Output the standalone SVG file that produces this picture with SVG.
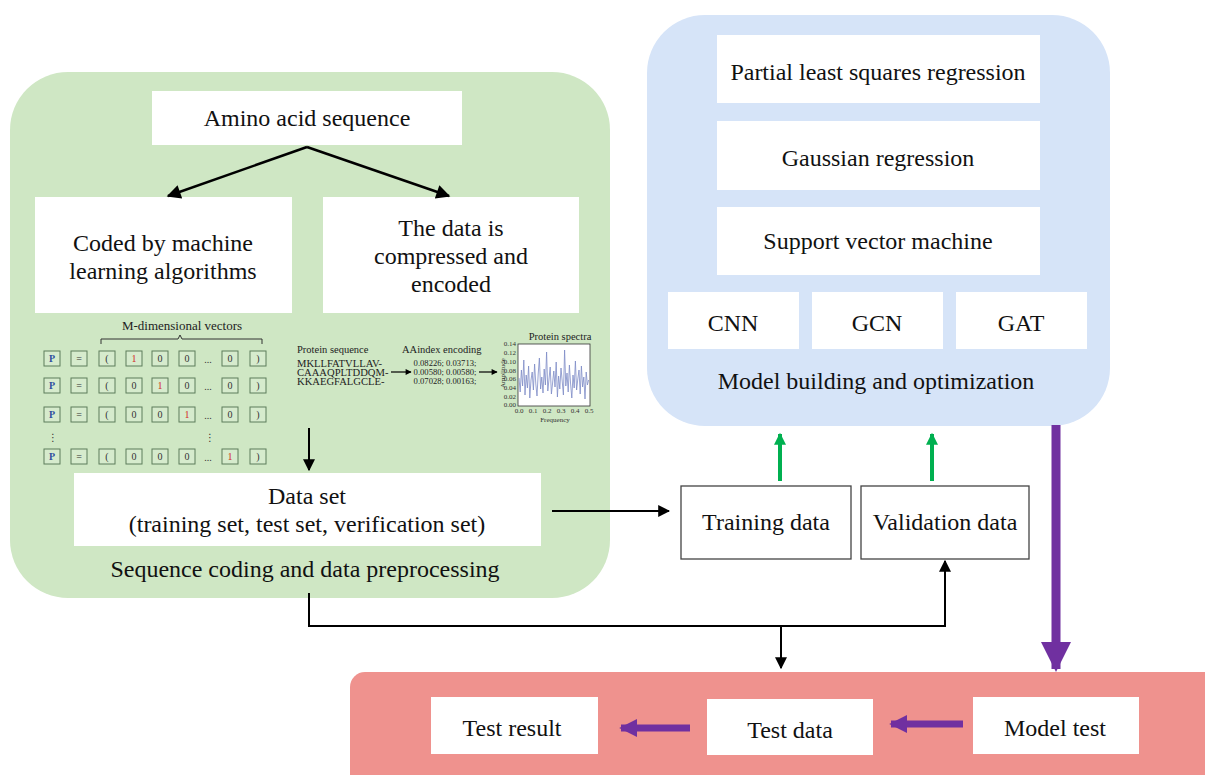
<svg xmlns="http://www.w3.org/2000/svg" width="1205" height="775" viewBox="0 0 1205 775" font-family="'Liberation Serif', 'DejaVu Serif', serif">
<defs>
<style>
text{font-family:"Liberation Serif","DejaVu Serif",serif}
.t{fill:#111;text-anchor:middle;dominant-baseline:central}
.big{font-size:24px}
.box{fill:#fff;stroke:none}
.obox{fill:#fff;stroke:#444;stroke-width:1.3}
.vb{fill:#d6ebcd;stroke:#5d7d5a;stroke-width:1}
.vt{font-size:10px;text-anchor:middle;dominant-baseline:central;fill:#333}
.sm{font-size:10.5px;fill:#222;dominant-baseline:central}
.seq{font-size:10.6px;fill:#222;dominant-baseline:central}
.num{font-size:8.6px;fill:#222;dominant-baseline:central}
.tk{font-size:7px;fill:#333;dominant-baseline:central}
.blk{fill:none;stroke:#000;stroke-width:2}
</style>
<marker id="ah" viewBox="0 0 10 10" refX="9" refY="5" markerWidth="12" markerHeight="12" markerUnits="userSpaceOnUse" orient="auto"><path d="M0,0L10,5L0,10z" fill="#000"/></marker>
<marker id="ah2" viewBox="0 0 10 10" refX="9" refY="5" markerWidth="16" markerHeight="14" markerUnits="userSpaceOnUse" orient="auto"><path d="M0,0L10,5L0,10z" fill="#000"/></marker>
<marker id="ahs" viewBox="0 0 10 10" refX="9" refY="5" markerWidth="7" markerHeight="6" markerUnits="userSpaceOnUse" orient="auto"><path d="M0,0L10,5L0,10z" fill="#000"/></marker>
<marker id="ag" viewBox="0 0 10 10" refX="9" refY="5" markerWidth="14" markerHeight="12" markerUnits="userSpaceOnUse" orient="auto"><path d="M0,0L10,5L0,10z" fill="#00b050"/></marker>
<marker id="ap" viewBox="0 0 10 10" refX="9" refY="5" markerWidth="18" markerHeight="18" markerUnits="userSpaceOnUse" orient="auto"><path d="M0,0L10,5L0,10z" fill="#7030a0"/></marker>
<marker id="apb" viewBox="0 0 10 10" refX="9" refY="5" markerWidth="30" markerHeight="30" markerUnits="userSpaceOnUse" orient="auto"><path d="M0,0L10,5L0,10z" fill="#7030a0"/></marker>
</defs>
<rect width="1205" height="775" fill="#fff"/>

<g id="panel-preprocessing">
<rect x="10" y="72" width="600" height="526" rx="58" fill="#cfe7c4"/>
<text class="t big" x="305" y="569">Sequence coding and data preprocessing</text>
</g>
<g id="panel-model">
<rect x="647" y="15" width="463" height="411" rx="58" fill="#d6e4f8"/>
<text class="t big" x="876" y="381">Model building and optimization</text>
</g>
<g id="panel-test">
<path d="M365,672H1205V775H350V687A15,15 0 0 1 365,672z" fill="#ef928e"/>
</g>

<g id="node-amino"><rect class="box" x="152" y="91" width="310" height="54"/><text class="t big" x="307" y="118">Amino acid sequence</text></g>
<g id="node-coded"><rect class="box" x="35" y="197" width="257" height="116"/><text class="t big" x="163" y="243">Coded by machine</text><text class="t big" x="163" y="271">learning algorithms</text></g>
<g id="node-compressed"><rect class="box" x="323" y="197" width="256" height="116"/><text class="t big" x="451" y="228">The data is</text><text class="t big" x="451" y="256">compressed and</text><text class="t big" x="451" y="284">encoded</text></g>

<g id="onehot-vectors">
<text class="vt" x="182" y="325" style="font-size:13px;fill:#222">M-dimensional vectors</text>
<path d="M101,344V339H178L180,335L182,339H262V344" fill="none" stroke="#333" stroke-width="1"/>
<g id="row1" transform="translate(0,351)">
<rect class="vb" x="44" width="16" height="15"/><text class="vt" x="52" y="7.5" style="fill:#2f4fa0;font-weight:bold">P</text>
<rect class="vb" x="71" width="16" height="15"/><text class="vt" x="79" y="7.5">=</text>
<rect class="vb" x="99" width="16" height="15"/><text class="vt" x="107" y="7.5">(</text>
<rect class="vb" x="126" width="16" height="15"/><text class="vt" x="134" y="7.5" style="fill:#d42a2a">1</text>
<rect class="vb" x="152" width="16" height="15"/><text class="vt" x="160" y="7.5">0</text>
<rect class="vb" x="179" width="16" height="15"/><text class="vt" x="187" y="7.5">0</text>
<text class="vt" x="208" y="8">...</text>
<rect class="vb" x="222" width="16" height="15"/><text class="vt" x="230" y="7.5">0</text>
<rect class="vb" x="250" width="16" height="15"/><text class="vt" x="258" y="7.5">)</text>
</g>
<g id="row2" transform="translate(0,378)">
<rect class="vb" x="44" width="16" height="15"/><text class="vt" x="52" y="7.5" style="fill:#2f4fa0;font-weight:bold">P</text>
<rect class="vb" x="71" width="16" height="15"/><text class="vt" x="79" y="7.5">=</text>
<rect class="vb" x="99" width="16" height="15"/><text class="vt" x="107" y="7.5">(</text>
<rect class="vb" x="126" width="16" height="15"/><text class="vt" x="134" y="7.5">0</text>
<rect class="vb" x="152" width="16" height="15"/><text class="vt" x="160" y="7.5" style="fill:#d42a2a">1</text>
<rect class="vb" x="179" width="16" height="15"/><text class="vt" x="187" y="7.5">0</text>
<text class="vt" x="208" y="8">...</text>
<rect class="vb" x="222" width="16" height="15"/><text class="vt" x="230" y="7.5">0</text>
<rect class="vb" x="250" width="16" height="15"/><text class="vt" x="258" y="7.5">)</text>
</g>
<g id="row3" transform="translate(0,407)">
<rect class="vb" x="44" width="16" height="15"/><text class="vt" x="52" y="7.5" style="fill:#2f4fa0;font-weight:bold">P</text>
<rect class="vb" x="71" width="16" height="15"/><text class="vt" x="79" y="7.5">=</text>
<rect class="vb" x="99" width="16" height="15"/><text class="vt" x="107" y="7.5">(</text>
<rect class="vb" x="126" width="16" height="15"/><text class="vt" x="134" y="7.5">0</text>
<rect class="vb" x="152" width="16" height="15"/><text class="vt" x="160" y="7.5">0</text>
<rect class="vb" x="179" width="16" height="15"/><text class="vt" x="187" y="7.5" style="fill:#d42a2a">1</text>
<text class="vt" x="208" y="8">...</text>
<rect class="vb" x="222" width="16" height="15"/><text class="vt" x="230" y="7.5">0</text>
<rect class="vb" x="250" width="16" height="15"/><text class="vt" x="258" y="7.5">)</text>
</g>
<text class="vt" x="53" y="437" style="font-family:'DejaVu Sans',sans-serif;font-size:10px">⋮</text>
<text class="vt" x="210" y="437" style="font-family:'DejaVu Sans',sans-serif;font-size:10px">⋮</text>
<g id="row4" transform="translate(0,449)">
<rect class="vb" x="44" width="16" height="15"/><text class="vt" x="52" y="7.5" style="fill:#2f4fa0;font-weight:bold">P</text>
<rect class="vb" x="71" width="16" height="15"/><text class="vt" x="79" y="7.5">=</text>
<rect class="vb" x="99" width="16" height="15"/><text class="vt" x="107" y="7.5">(</text>
<rect class="vb" x="126" width="16" height="15"/><text class="vt" x="134" y="7.5">0</text>
<rect class="vb" x="152" width="16" height="15"/><text class="vt" x="160" y="7.5">0</text>
<rect class="vb" x="179" width="16" height="15"/><text class="vt" x="187" y="7.5">0</text>
<text class="vt" x="208" y="8">...</text>
<rect class="vb" x="222" width="16" height="15"/><text class="vt" x="230" y="7.5" style="fill:#d42a2a">1</text>
<rect class="vb" x="250" width="16" height="15"/><text class="vt" x="258" y="7.5">)</text>
</g>
</g>

<g id="aaindex-encoding">
<text class="sm" x="297" y="349">Protein sequence</text>
<text class="sm" x="402" y="349">AAindex encoding</text>
<text class="seq" x="297" y="363">MKLLFATVLLAV-</text>
<text class="seq" x="297" y="372">CAAAQPLTDDQM-</text>
<text class="seq" x="297" y="381">KKAEGFALGCLE-</text>
<text class="num" x="445" y="363" text-anchor="middle">0.08226; 0.03713;</text>
<text class="num" x="445" y="372" text-anchor="middle">0.00580; 0.00580;</text>
<text class="num" x="445" y="381" text-anchor="middle">0.07028; 0.00163;</text>
<line x1="391" y1="372" x2="411" y2="372" stroke="#000" stroke-width="1.2" marker-end="url(#ahs)"/>
<line x1="479" y1="372" x2="497" y2="372" stroke="#000" stroke-width="1.2" marker-end="url(#ahs)"/>
<text class="sm" x="560" y="336" text-anchor="middle">Protein spectra</text>
<rect x="518" y="344" width="72" height="62" fill="#fff" stroke="#333" stroke-width="0.8"/>
<polyline fill="none" stroke="#7d8cc6" stroke-width="0.8" points="519,378 520.2,392 521.4,370 522.6,386 523.8,360 525,395 526.2,375 527.4,388 528.6,366 529.8,398 531,380 532.2,372 533.4,390 534.6,364 535.8,384 537,396 538.2,374 539.4,358 540.6,389 541.8,377 543,393 544.2,369 545.4,385 546.6,352 547.8,391 549,379 550.2,367 551.4,394 552.6,383 553.8,371 555,387 556.2,362 557.4,397 558.6,376 559.8,389 561,368 562.2,381 563.4,395 564.6,350 565.8,386 567,373 568.2,392 569.4,365 570.6,384 571.8,398 573,375 574.2,388 575.4,361 576.6,390 577.8,379 579,370 580.2,394 581.4,366 582.6,387 583.8,377 585,399 586.2,372 587.4,385 588.6,380"/>
<text class="tk" x="516" y="344" text-anchor="end">0.14</text>
<text class="tk" x="516" y="352.9" text-anchor="end">0.12</text>
<text class="tk" x="516" y="361.7" text-anchor="end">0.10</text>
<text class="tk" x="516" y="370.6" text-anchor="end">0.08</text>
<text class="tk" x="516" y="379.4" text-anchor="end">0.06</text>
<text class="tk" x="516" y="388.3" text-anchor="end">0.04</text>
<text class="tk" x="516" y="397.1" text-anchor="end">0.02</text>
<text class="tk" x="516" y="405" text-anchor="end">0.00</text>
<text class="tk" x="519" y="411" text-anchor="middle">0.0</text>
<text class="tk" x="533" y="411" text-anchor="middle">0.1</text>
<text class="tk" x="547" y="411" text-anchor="middle">0.2</text>
<text class="tk" x="561" y="411" text-anchor="middle">0.3</text>
<text class="tk" x="575" y="411" text-anchor="middle">0.4</text>
<text class="tk" x="589" y="411" text-anchor="middle">0.5</text>
<text class="tk" x="555" y="420" text-anchor="middle">Frequency</text>
<text class="tk" x="0" y="0" text-anchor="middle" transform="translate(503,373) rotate(-90)">Amplitude</text>
</g>

<g id="node-dataset"><rect class="box" x="74" y="473" width="467" height="73"/><text class="t big" x="307" y="496">Data set</text><text class="t big" x="307" y="524">(training set, test set, verification set)</text></g>

<g id="node-pls"><rect class="box" x="717" y="35" width="323" height="68"/><text class="t big" x="878" y="72">Partial least squares regression</text></g>
<g id="node-gauss"><rect class="box" x="717" y="121" width="323" height="69"/><text class="t big" x="878" y="158">Gaussian regression</text></g>
<g id="node-svm"><rect class="box" x="717" y="207" width="323" height="68"/><text class="t big" x="878" y="241">Support vector machine</text></g>
<g id="node-cnn"><rect class="box" x="668" y="292" width="131" height="57"/><text class="t big" x="733" y="323">CNN</text></g>
<g id="node-gcn"><rect class="box" x="812" y="292" width="131" height="57"/><text class="t big" x="877" y="323">GCN</text></g>
<g id="node-gat"><rect class="box" x="956" y="292" width="131" height="57"/><text class="t big" x="1021" y="323">GAT</text></g>

<g id="node-training"><rect class="obox" x="681" y="486" width="170" height="73"/><text class="t big" x="766" y="522">Training data</text></g>
<g id="node-validation"><rect class="obox" x="861" y="486" width="168" height="73"/><text class="t big" x="945" y="522">Validation data</text></g>

<g id="node-testresult"><rect class="box" x="431" y="697" width="167" height="57"/><text class="t big" x="512" y="728">Test result</text></g>
<g id="node-testdata"><rect class="box" x="707" y="699" width="166" height="56"/><text class="t big" x="790" y="730">Test data</text></g>
<g id="node-modeltest"><rect class="box" x="973" y="697" width="166" height="57"/><text class="t big" x="1055" y="728">Model test</text></g>

<g id="connectors">
<line x1="307" y1="147" x2="168" y2="196" stroke="#000" stroke-width="2.5" marker-end="url(#ah2)"/>
<line x1="307" y1="147" x2="449" y2="196" stroke="#000" stroke-width="2.5" marker-end="url(#ah2)"/>
<line x1="309" y1="428" x2="309" y2="470" class="blk" marker-end="url(#ah)"/>
<line x1="552" y1="511" x2="669" y2="511" class="blk" marker-end="url(#ah)"/>
<line x1="780" y1="481" x2="780" y2="434" stroke="#00b050" stroke-width="4" marker-end="url(#ag)"/>
<line x1="932" y1="481" x2="932" y2="434" stroke="#00b050" stroke-width="4" marker-end="url(#ag)"/>
<path d="M309,593V626H945V561" class="blk" marker-end="url(#ah)"/>
<line x1="781" y1="626" x2="781" y2="668" class="blk" marker-end="url(#ah)"/>
<line x1="1056" y1="425" x2="1056" y2="669" stroke="#7030a0" stroke-width="9" marker-end="url(#apb)"/>
<line x1="690" y1="728" x2="621" y2="728" stroke="#7030a0" stroke-width="7" marker-end="url(#ap)"/>
<line x1="963" y1="724" x2="891" y2="724" stroke="#7030a0" stroke-width="7" marker-end="url(#ap)"/>
</g>
</svg>
